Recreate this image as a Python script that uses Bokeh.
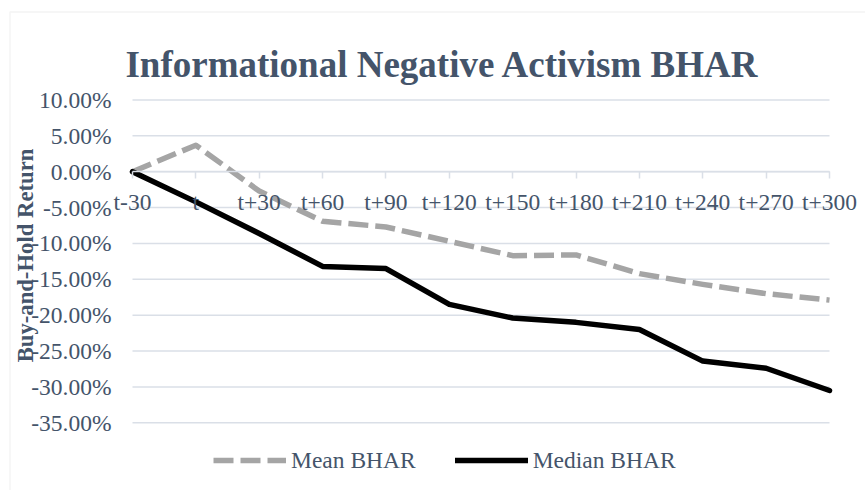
from math import pi
from bokeh.plotting import figure
from bokeh.models import (Range1d, FixedTicker, NumeralTickFormatter, Label,
                          Legend, LegendItem, LinearAxis, BoxAnnotation)
from bokeh.embed import file_html
from bokeh.resources import INLINE

categories = ["t-30", "t", "t+30", "t+60", "t+90", "t+120", "t+150",
              "t+180", "t+210", "t+240", "t+270", "t+300"]
mean_bhar = [0.0, 0.037, -0.027, -0.069, -0.077, -0.097, -0.117,
             -0.116, -0.142, -0.157, -0.170, -0.179]
median_bhar = [0.0, -0.042, -0.086, -0.132, -0.135, -0.185, -0.204,
               -0.210, -0.220, -0.264, -0.274, -0.305]
y_ticks = [0.10, 0.05, 0.0, -0.05, -0.10, -0.15, -0.20, -0.25, -0.30, -0.35]

title_text = "Informational Negative Activism BHAR"
y_title = "Buy-and-Hold Return"
series_names = ["Mean BHAR", "Median BHAR"]

TEXT = "#44546A"
GRID = "#DADFE7"
FONT = "Liberation Serif"

xs = list(range(len(categories)))

p = figure(width=865, height=490, output_backend="svg", toolbar_location=None,
           x_range=Range1d(-2.0832, 11.5681),
           y_range=Range1d(-0.44440, 0.23872),
           x_axis_location=None, y_axis_location=None,
           min_border=0, min_border_left=0, min_border_right=0,
           min_border_top=0, min_border_bottom=0,
           background_fill_color="white", border_fill_color="white")
p.title.visible = False
p.outline_line_color = None
p.xgrid.visible = False
p.ygrid.visible = False

# chart-area border
p.add_layout(BoxAnnotation(left=-1.933, top=0.2227, right=13, bottom=-0.6,
                           fill_alpha=0, line_color="#D9D9D9",
                           line_width=1.5))

# horizontal gridlines limited to the category extent
p.segment(x0=[xs[0]] * len(y_ticks), x1=[xs[-1]] * len(y_ticks),
          y0=y_ticks, y1=y_ticks, line_color=GRID, line_width=1.5)

# y axis (labels only)
yaxis = LinearAxis(fixed_location=0)
yaxis.ticker = FixedTicker(ticks=y_ticks)
yaxis.formatter = NumeralTickFormatter(format="0.00%")
yaxis.axis_line_color = None
yaxis.major_tick_line_color = None
yaxis.minor_tick_line_color = None
yaxis.major_tick_out = 0
yaxis.major_tick_in = 0
yaxis.major_label_standoff = 21
yaxis.major_label_text_font = FONT
yaxis.major_label_text_font_size = "23.5px"
yaxis.major_label_text_color = TEXT
p.add_layout(yaxis, "left")

# x axis crossing at zero
xaxis = LinearAxis(fixed_location=0, bounds=(xs[0], xs[-1]))
xaxis.ticker = FixedTicker(ticks=xs)
xaxis.major_label_overrides = {i: c for i, c in zip(xs, categories)}
xaxis.axis_line_color = GRID
xaxis.axis_line_width = 1.5
xaxis.major_tick_line_color = GRID
xaxis.major_tick_line_width = 1.5
xaxis.major_tick_out = 7
xaxis.major_tick_in = 0
xaxis.minor_tick_line_color = None
xaxis.major_label_standoff = 10
xaxis.major_label_text_font = FONT
xaxis.major_label_text_font_size = "23.5px"
xaxis.major_label_text_color = TEXT
p.add_layout(xaxis, "below")

# series
r_mean = p.line(xs, mean_bhar, line_color="#A5A5A5", line_width=5.5,
                line_dash="20 7", line_join="round", line_cap="butt")
r_med = p.line(xs, median_bhar, line_color="#000000", line_width=5.5,
               line_join="round", line_cap="round")

legend = Legend(items=[LegendItem(label=series_names[0], renderers=[r_mean]),
                       LegendItem(label=series_names[1], renderers=[r_med])],
                orientation="horizontal", location=(213, 15),
                glyph_width=73, glyph_height=30, label_height=30,
                label_standoff=5, spacing=39, padding=0, margin=0,
                border_line_color=None, background_fill_alpha=0,
                label_text_font=FONT, label_text_font_size="23.5px",
                label_text_color=TEXT)
p.add_layout(legend, "center")

# chart title
p.add_layout(Label(x=4.892, y=0.1491, text=title_text, text_align="center",
                   text_baseline="alphabetic", text_font=FONT,
                   text_font_style="bold", text_font_size="37px",
                   text_color=TEXT))

# y axis title
p.add_layout(Label(x=-1.692, y=-0.1168, text=y_title, angle=pi / 2,
                   text_align="center", text_baseline="middle",
                   text_font=FONT, text_font_style="bold",
                   text_font_size="22.7px", text_color=TEXT))

open("out.html", "w").write(file_html(p, INLINE))
